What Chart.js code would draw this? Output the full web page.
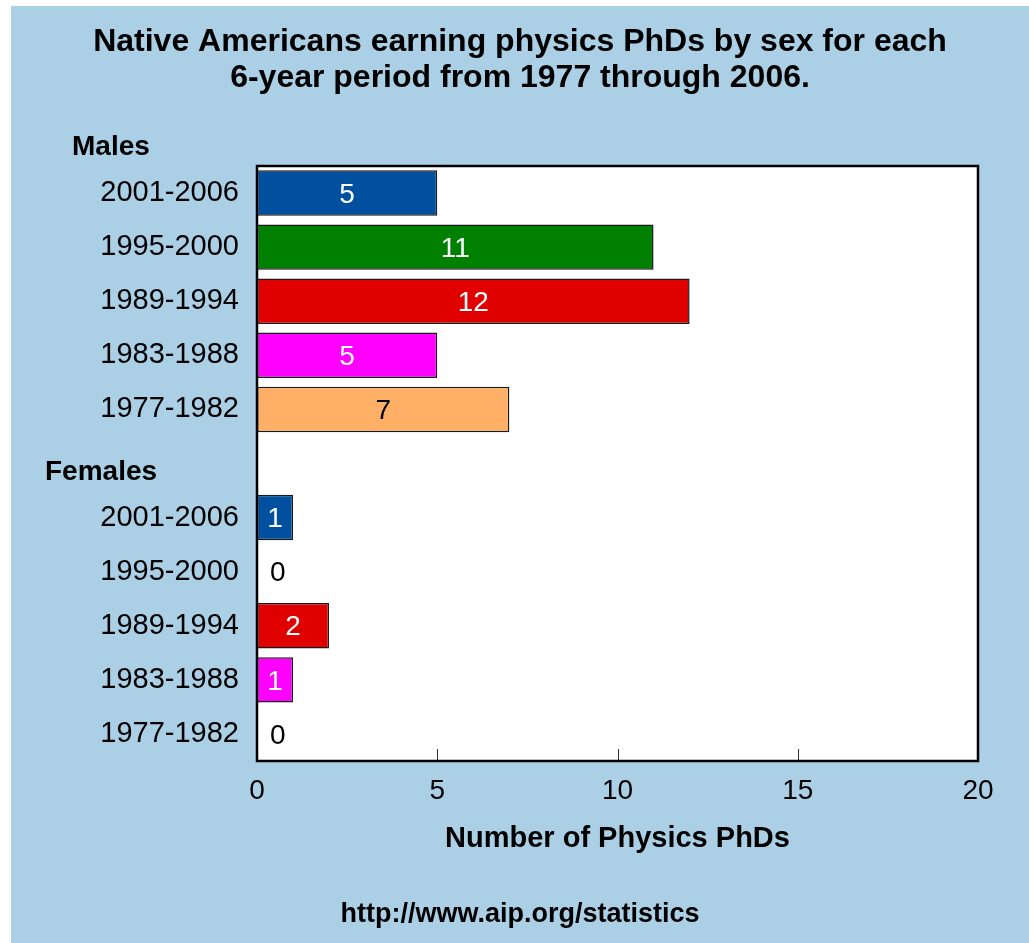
<!DOCTYPE html>
<html>
<head>
<meta charset="utf-8">
<script src="https://cdn.jsdelivr.net/npm/chart.js@4.4.0/dist/chart.umd.min.js"></script>
<style>
  html, body { margin: 0; padding: 0; background: #fff; }
  #wrap { width: 1029px; height: 943px; }
</style>
</head>
<body>
<div id="wrap"><canvas id="phdChart" width="1029" height="943"></canvas></div>
<script>
// data
const periods = ['2001-2006', '1995-2000', '1989-1994', '1983-1988', '1977-1982'];
const males = [5, 11, 12, 5, 7];
const females = [1, 0, 2, 1, 0];
const xTicks = [0, 5, 10, 15, 20];
const periodColors = ['#00509F', '#008000', '#E00000', '#FF00FF', '#FFB066'];
const labelColors = ['#fff', '#fff', '#fff', '#fff', '#000'];
const titleLines = ['Native Americans earning physics PhDs by sex for each', '6-year period from 1977 through 2006.'];
const axisTitle = 'Number of Physics PhDs';
const footer = 'http://www.aip.org/statistics';

const FONT = '"Liberation Sans", Arial, sans-serif';
const panelBlue = '#ABD0E6';

// males, empty gap row, then females
const labels = [...periods, '', ...periods];
const values = [...males, null, ...females];
const colors = [...periodColors, 'rgba(0,0,0,0)', ...periodColors];
const valColors = [...labelColors, '#000', ...labelColors];

const decor = {
    id: 'decor',
    beforeDraw(chart) {
        const ctx = chart.ctx;
        ctx.save();
        ctx.fillStyle = '#fff';
        ctx.fillRect(0, 0, chart.width, chart.height);
        ctx.fillStyle = panelBlue;
        ctx.fillRect(11, 6, chart.width - 11, chart.height - 6);
        const a = chart.chartArea;
        ctx.fillStyle = '#fff';
        ctx.fillRect(a.left, a.top, a.right - a.left, a.bottom - a.top);
        ctx.restore();
    },
    afterDatasetsDraw(chart) {
        const ctx = chart.ctx;
        const a = chart.chartArea;
        const xs = chart.scales.x;
        ctx.save();

        // value labels
        const meta = chart.getDatasetMeta(0);
        ctx.font = '28px ' + FONT;
        ctx.textBaseline = 'middle';
        meta.data.forEach((bar, i) => {
            const v = values[i];
            if (v === null) return;
            if (v === 0) {
                ctx.fillStyle = '#000';
                ctx.textAlign = 'left';
                ctx.fillText(String(v), a.left + 13, bar.y + 2);
            } else {
                ctx.fillStyle = valColors[i];
                ctx.textAlign = 'center';
                ctx.fillText(String(v), (bar.x + bar.base) / 2, bar.y + 2);
            }
        });

        // inside tick marks
        ctx.strokeStyle = '#333';
        ctx.lineWidth = 1;
        xTicks.forEach(t => {
            const px = Math.round(xs.getPixelForValue(t)) + 0.5;
            ctx.beginPath();
            ctx.moveTo(px, a.bottom);
            ctx.lineTo(px, a.bottom - 12);
            ctx.stroke();
        });

        // plot frame
        ctx.strokeStyle = '#000';
        ctx.lineWidth = 2.5;
        ctx.strokeRect(a.left, a.top, a.right - a.left, a.bottom - a.top);

        // texts
        ctx.fillStyle = '#000';
        ctx.textBaseline = 'middle';
        ctx.textAlign = 'center';
        ctx.font = 'bold 32px ' + FONT;
        ctx.fillText(titleLines[0], 520, 42);
        ctx.fillText(titleLines[1], 520, 78);

        ctx.font = 'bold 29px ' + FONT;
        ctx.fillText(axisTitle, (a.left + a.right) / 2, 839);

        ctx.font = 'bold 27px ' + FONT;
        ctx.fillText(footer, 520, 915);

        ctx.textAlign = 'left';
        ctx.font = 'bold 28px ' + FONT;
        ctx.fillText('Males', 72, 147);
        const gapY = chart.scales.y.getPixelForValue(periods.length);
        ctx.fillText('Females', 45, gapY + 9);
        ctx.restore();
    }
};

new Chart(document.getElementById('phdChart'), {
    type: 'bar',
    data: {
        labels: labels,
        datasets: [{
            data: values,
            backgroundColor: colors,
            borderColor: '#1a1a1a',
            borderWidth: 1.5,
            borderSkipped: false,
            barPercentage: 0.84,
            categoryPercentage: 1
        }]
    },
    options: {
        indexAxis: 'y',
        responsive: false,
        animation: false,
        layout: { padding: { top: 166, right: 51, bottom: 0, left: 0 } },
        plugins: {
            legend: { display: false },
            title: { display: false },
            tooltip: { enabled: false }
        },
        scales: {
            x: {
                min: 0,
                max: 20,
                grid: { display: false },
                border: { display: false },
                afterBuildTicks: s => { s.ticks = xTicks.map(v => ({ value: v })); },
                afterFit: s => { s.height = 182; },
                ticks: {
                    color: '#000',
                    padding: 5,
                    maxRotation: 0,
                    font: { family: FONT, size: 28 }
                }
            },
            y: {
                grid: { display: false },
                border: { display: false },
                afterFit: s => { s.width = 257; },
                ticks: {
                    color: '#000',
                    padding: 10,
                    autoSkip: false,
                    font: { family: FONT, size: 29 }
                }
            }
        }
    },
    plugins: [decor]
});
</script>
</body>
</html>
